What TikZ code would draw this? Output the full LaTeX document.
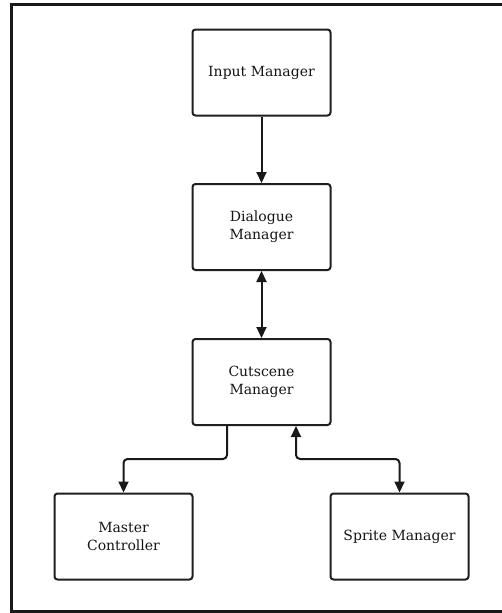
\documentclass[tikz,border=0pt]{standalone}
\usepackage{fontspec}
\setmainfont{DejaVu Serif}
\usetikzlibrary{arrows.meta}
\begin{document}
\begin{tikzpicture}[x=1pt,y=-1pt,
  box/.style={draw=black!88, line width=2pt, rounded corners=3pt,
    minimum width=138pt, minimum height=86pt, inner sep=0pt,
    align=center, font=\fontsize{14}{18}\selectfont, text=black!92},
  arr/.style={draw=black!90, line width=2pt, rounded corners=4pt,
    -{Triangle[width=10pt,length=11pt]}},
  barr/.style={arr, {Triangle[width=10pt,length=11pt]}-{Triangle[width=10pt,length=11pt]}}]
\useasboundingbox (0,0) rectangle (501,613);
\draw[line width=2.2pt, black!90] (11.5,4.5) rectangle (510,611.5);
\node[box] (im) at (261.5,72.5) {Input Manager};
\node[box] (dm) at (261.5,227) {Dialogue\\Manager};
\node[box] (cm) at (261.5,382) {Cutscene\\Manager};
\node[box] (mc) at (123.5,536.5) {Master\\Controller};
\node[box] (sm) at (399.5,536.5) {Sprite Manager};
\draw[arr] (im.south) -- (dm.north);
\draw[barr] (dm.south) -- (cm.north);
\draw[arr] ([xshift=-34.5pt]cm.south) -- ++(0,33) -| (mc.north);
\draw[barr] ([xshift=34.5pt]cm.south) -- ++(0,33) -| (sm.north);
\end{tikzpicture}
\end{document}
